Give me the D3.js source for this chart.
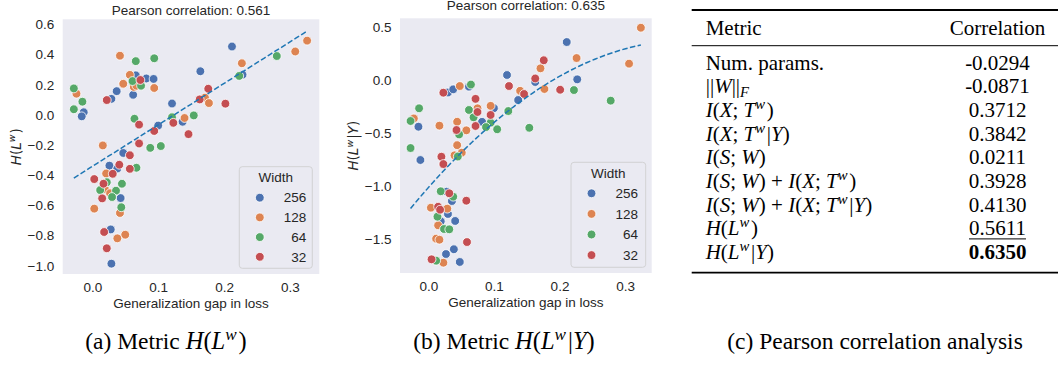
<!DOCTYPE html>
<html>
<head>
<meta charset="utf-8">
<script src="https://cdn.jsdelivr.net/npm/d3@7"></script>
<style>
  body { margin: 0; background: #fff; }
  text { white-space: pre; }
</style>
</head>
<body>
<svg id="fig" width="1058" height="367"></svg>
<script>
// series: [generalization gap, metric]
const widths = [256, 128, 64, 32];
const widthColors = ['#4c72b0', '#dd8452', '#55a868', '#c44e52'];

const hLw256 = [[0.066,0.263],[0.082,0.242],[0.093,0.239],[0.037,0.158],[0.029,0.107],[0.062,0.134],[-0.013,0.018],[-0.016,-0.009],[0.121,0.076],[0.100,-0.070],[0.137,-0.045],[0.047,-0.252],[0.026,-0.336],[0.038,-0.355],[0.043,-0.551],[0.028,-0.759],[0.029,-0.986],[0.212,0.454],[0.164,0.290],[0.228,0.267]];
const hLw128 = [[0.042,0.393],[0.057,0.266],[0.047,0.207],[0.063,0.186],[0.067,0.194],[0.094,0.179],[-0.024,0.141],[0.016,-0.202],[0.021,-0.388],[0.019,-0.491],[0.027,-0.519],[0.003,-0.621],[0.042,-0.650],[0.050,-0.794],[0.038,-0.818],[0.227,0.343],[0.308,0.421],[0.326,0.493],[0.171,0.115],[0.177,0.079],[0.140,-0.020]];
const hLw64 = [[0.066,0.357],[0.094,0.376],[0.061,0.225],[0.074,0.194],[-0.028,0.176],[-0.015,0.088],[-0.028,0.038],[0.064,-0.025],[0.121,-0.015],[0.154,-0.003],[0.088,-0.218],[0.104,-0.206],[0.067,-0.350],[0.022,-0.446],[0.045,-0.456],[0.012,-0.498],[0.036,-0.502],[0.030,-0.544],[0.044,-0.612],[0.280,0.391],[0.223,0.259]];
const hLw32 = [[0.073,0.232],[0.022,0.099],[0.071,-0.064],[0.123,-0.052],[0.094,-0.106],[0.146,-0.127],[0.071,-0.189],[0.057,-0.267],[0.041,-0.330],[0.057,-0.357],[0.031,-0.390],[0.003,-0.425],[0.017,-0.456],[0.015,-0.553],[0.018,-0.776],[0.022,-0.884],[0.176,0.174],[0.163,0.103],[0.202,0.075]];

const hLwY256 = [[0.211,0.361],[0.120,0.050],[0.163,-0.016],[0.137,-0.186],[0.227,0.009],[0.030,-0.115],[0.038,-0.085],[0.062,-0.060],[-0.015,-0.438],[0.100,-0.263],[0.082,-0.392],[-0.012,-0.752],[0.028,-1.051],[0.036,-1.139],[0.030,-1.261],[0.019,-1.330],[0.041,-1.327],[0.039,-1.594],[0.027,-1.639],[0.048,-1.714]];
const hLwY128 = [[0.324,0.496],[0.306,0.157],[0.226,0.210],[0.171,0.113],[0.177,-0.082],[0.140,-0.099],[0.048,-0.054],[-0.022,-0.360],[0.017,-0.428],[0.044,-0.391],[0.075,-0.264],[0.095,-0.241],[0.058,-0.472],[0.044,-0.612],[0.040,-0.708],[0.051,-0.683],[0.004,-1.202],[0.029,-1.211],[0.015,-1.368],[0.012,-1.494],[0.017,-1.504],[0.023,-1.721]];
const hLwY64 = [[0.278,-0.192],[0.222,-0.092],[0.154,-0.448],[0.122,-0.290],[0.065,-0.040],[-0.014,-0.264],[-0.027,-0.384],[0.062,-0.280],[0.069,-0.349],[0.095,-0.400],[0.088,-0.441],[0.105,-0.462],[0.047,-0.511],[-0.027,-0.639],[0.045,-0.719],[0.019,-1.047],[0.038,-1.098],[0.014,-1.287],[0.024,-1.403],[0.032,-1.406],[0.012,-1.702]];
const hLwY32 = [[0.176,0.189],[0.163,0.017],[0.123,-0.054],[0.146,-0.129],[0.201,-0.089],[0.023,-0.117],[0.072,-0.175],[0.075,-0.299],[0.095,-0.327],[0.072,-0.431],[0.043,-0.469],[0.020,-0.721],[0.023,-0.790],[0.032,-1.066],[0.058,-1.136],[0.015,-1.193],[0.018,-1.221],[0.059,-1.526],[0.005,-1.689]];

// dashed fits as drawn in the figure (polynomial coefficients, constant term first)
const hLwFit = [-0.341, 2.752];
const hLwYFit = [-1.013, 7.023, -8.854];

const gapTicks = [0.0, 0.1, 0.2, 0.3];
const hLwTicks = [0.6, 0.4, 0.2, 0.0, -0.2, -0.4, -0.6, -0.8, -1.0];
const hLwYTicks = [0.5, 0.0, -0.5, -1.0, -1.5];

// table (c)
const metricNames = ['Num. params.', '$||W||_F', '$I(X; T^w)', '$I(X; T^w|Y)', '$I(S; W)',
  '$I(S; W) + I(X; T^w)', '$I(S; W) + I(X; T^w|Y)', '$H(L^w)', '$H(L^w|Y)'];
const correlations = [-0.0294, -0.0871, 0.3712, 0.3842, 0.0211, 0.3928, 0.4130, 0.5611, 0.6350];

const SANS = 'Liberation Sans, Arial, sans-serif';
const SERIF = 'Liberation Serif, Times New Roman, serif';
const svg = d3.select('#fig');

// tiny math writer: letters italic, ^x superscript, _x subscript
function mathText(sel, str, size) {
  let shift = 0;
  const add = (s, sz, target) => {
    const ts = sel.append('tspan').text(s)
      .attr('font-style', /[A-Za-z]/.test(s) ? 'italic' : 'normal')
      .attr('font-size', sz)
      .attr('dy', target - shift);
    if (shift !== 0 && target === 0) ts.attr('dx', size * 0.08);
    shift = target;
  };
  for (let i = 0; i < str.length; i++) {
    const c = str[i];
    if (c === '^') { add(str[++i], size * 0.7, -size * 0.38); }
    else if (c === '_') { add(str[++i], size * 0.7, size * 0.2); }
    else add(c, size, 0);
  }
}

function drawPanel(cfg) {
  const x = d3.scaleLinear().domain(cfg.xDomain).range([cfg.x0, cfg.x1]);
  const y = d3.scaleLinear().domain(cfg.yDomain).range([cfg.y1, cfg.y0]);
  const g = svg.append('g');

  g.append('rect')
    .attr('x', cfg.x0).attr('y', cfg.y0)
    .attr('width', cfg.x1 - cfg.x0).attr('height', cfg.y1 - cfg.y0)
    .attr('fill', '#eaeaf2');

  const xaxis = g.append('g')
    .attr('transform', `translate(0,${cfg.y1})`)
    .call(d3.axisBottom(x).tickValues(gapTicks).tickSize(0).tickPadding(8.5).tickFormat(d3.format('.1f')));
  const yaxis = g.append('g')
    .attr('transform', `translate(${cfg.x0},0)`)
    .call(d3.axisLeft(y).tickValues(cfg.yTicks).tickSize(0).tickPadding(8.5).tickFormat(d3.format('.1f')));
  [xaxis, yaxis].forEach(a => {
    a.select('.domain').remove();
    a.selectAll('text').attr('font-family', SANS).attr('font-size', 13.5).attr('fill', '#262626');
  });

  // title + axis labels
  g.append('text')
    .attr('x', (cfg.x0 + cfg.x1) / 2).attr('y', cfg.titleY)
    .attr('text-anchor', 'middle').attr('font-family', SANS).attr('font-size', 13.5).attr('fill', '#262626')
    .text(cfg.title);
  g.append('text')
    .attr('x', (cfg.x0 + cfg.x1) / 2).attr('y', cfg.y1 + 33.5)
    .attr('text-anchor', 'middle').attr('font-family', SANS).attr('font-size', 13.5).attr('fill', '#262626')
    .text('Generalization gap in loss');
  const yl = g.append('text')
    .attr('transform', `translate(${cfg.ylabelX},${(cfg.y0 + cfg.y1) / 2}) rotate(-90)`)
    .attr('text-anchor', 'middle').attr('font-family', 'DejaVu Sans, sans-serif').attr('font-size', 13.5).attr('fill', '#262626');
  mathText(yl, cfg.ylabel, 13.5);

  // points
  const all = [];
  cfg.series.forEach((pts, i) => pts.forEach(p => all.push({ p, color: widthColors[i] })));
  g.selectAll('circle.pt').data(all).join('circle')
    .attr('class', 'pt')
    .attr('cx', d => x(d.p[0])).attr('cy', d => y(d.p[1]))
    .attr('r', 4.4)
    .attr('fill', d => d.color)
    .attr('stroke', '#fff').attr('stroke-width', 0.8);

  // regression curve over the range of the data
  const f = xv => cfg.fit.reduce((acc, c, i) => acc + c * Math.pow(xv, i), 0);
  const [xmin, xmax] = d3.extent(cfg.series.flat(), d => d[0]);
  const xs = d3.range(0, 61).map(i => xmin + (xmax - xmin) * i / 60);
  g.append('path')
    .attr('d', d3.line().x(d => x(d)).y(d => y(f(d)))(xs))
    .attr('fill', 'none').attr('stroke', '#1f77b4')
    .attr('stroke-width', 1.5).attr('stroke-dasharray', '5.5,2.4');

  // legend
  const L = cfg.legend;
  const lg = g.append('g').attr('transform', `translate(${L.x},${L.y})`);
  lg.append('rect').attr('width', L.w).attr('height', L.h).attr('rx', 3)
    .attr('fill', '#eaeaf2').attr('stroke', '#cccccc').attr('stroke-width', 0.8);
  lg.append('text').attr('x', L.w / 2).attr('y', 15.5).attr('text-anchor', 'middle')
    .attr('font-family', SANS).attr('font-size', 13.5).attr('fill', '#262626').text('Width');
  widths.forEach((w, i) => {
    const cy = 31 + i * L.step;
    lg.append('circle').attr('cx', 20.5).attr('cy', cy).attr('r', 4.4)
      .attr('fill', widthColors[i]).attr('stroke', '#fff').attr('stroke-width', 0.8);
    lg.append('text').attr('x', 67).attr('y', cy + 4.8).attr('text-anchor', 'end')
      .attr('font-family', SANS).attr('font-size', 13.5).attr('fill', '#262626').text(w);
  });
}

drawPanel({
  x0: 62.7, x1: 319.3, y0: 19.3, y1: 274,
  xDomain: [-0.0449, 0.3445], yDomain: [-1.0545, 0.6345],
  yTicks: hLwTicks, title: 'Pearson correlation: 0.561', titleY: 14.5,
  ylabel: 'H(L^w)', ylabelX: 20.5,
  series: [hLw256, hLw128, hLw64, hLw32], fit: hLwFit,
  legend: { x: 239.3, y: 166.7, w: 73, h: 101.6, step: 19.7 }
});

drawPanel({
  x0: 400, x1: 651.7, y0: 18.3, y1: 273,
  xDomain: [-0.0431, 0.3405], yDomain: [-1.818, 0.585],
  yTicks: hLwYTicks, title: 'Pearson correlation: 0.635', titleY: 9.5,
  ylabel: 'H(L^w|Y)', ylabelX: 358,
  series: [hLwY256, hLwY128, hLwY64, hLwY32], fit: hLwYFit,
  legend: { x: 571, y: 162.3, w: 74.7, h: 105, step: 20.6 }
});

// table (c)
const tab = svg.append('g').attr('font-family', SERIF).attr('fill', '#000');
const tx0 = 691.7, tx1 = 1058, colMetric = 705.7, colCorr = 997.5;
tab.append('line').attr('x1', tx0).attr('x2', tx1).attr('y1', 10).attr('y2', 10).attr('stroke', '#000').attr('stroke-width', 1.8);
tab.append('line').attr('x1', tx0).attr('x2', tx1).attr('y1', 45.7).attr('y2', 45.7).attr('stroke', '#000').attr('stroke-width', 1);
tab.append('line').attr('x1', tx0).attr('x2', tx1).attr('y1', 272.7).attr('y2', 272.7).attr('stroke', '#000').attr('stroke-width', 1.8);
tab.append('text').attr('x', colMetric).attr('y', 34.5).attr('font-size', 21).text('Metric');
tab.append('text').attr('x', colCorr).attr('y', 34.5).attr('font-size', 21).attr('text-anchor', 'middle').text('Correlation');

const ranked = correlations.slice().sort(d3.descending);
metricNames.forEach((m, i) => {
  const by = 69.5 + i * 23.7;
  const t = tab.append('text').attr('x', colMetric).attr('y', by).attr('font-size', 21);
  if (m[0] === '$') mathText(t, m.slice(1), 21); else t.text(m);
  const v = correlations[i];
  const vt = tab.append('text').attr('x', colCorr).attr('y', by).attr('font-size', 21)
    .attr('text-anchor', 'middle').attr('font-weight', v === ranked[0] ? 'bold' : 'normal')
    .text(v.toFixed(4));
  if (v === ranked[1]) {
    const bb = vt.node().getBBox();
    tab.append('line').attr('x1', bb.x).attr('x2', bb.x + bb.width)
      .attr('y1', by + 3.5).attr('y2', by + 3.5).attr('stroke', '#000').attr('stroke-width', 1);
  }
});

// captions
const captions = [
  { cx: 166, s: '(a) Metric ', m: 'H(L^w)' },
  { cx: 504, s: '(b) Metric ', m: 'H(L^w|Y)' },
  { cx: 875, s: '(c) Pearson correlation analysis', m: '' }
];
captions.forEach(c => {
  const t = svg.append('text').attr('x', c.cx).attr('y', 349).attr('text-anchor', 'middle')
    .attr('font-family', SERIF).attr('font-size', 23.5).attr('fill', '#000');
  t.append('tspan').text(c.s);
  if (c.m) mathText(t, c.m, 24.5);
});
</script>
</body>
</html>
